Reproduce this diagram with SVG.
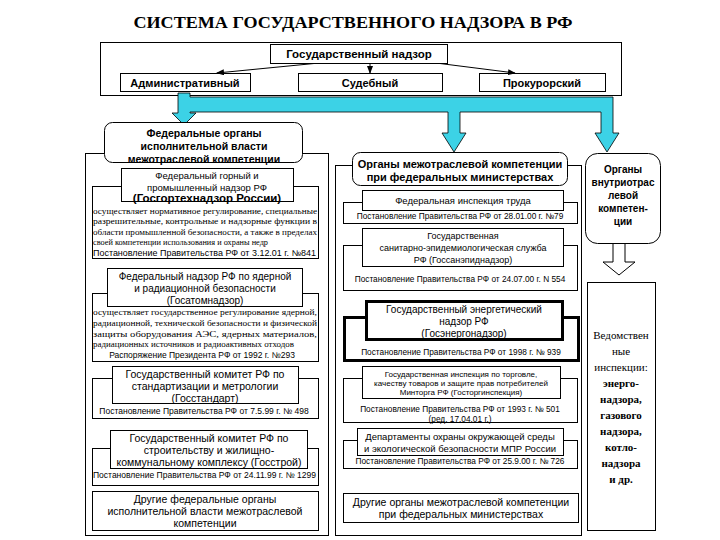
<svg xmlns="http://www.w3.org/2000/svg" width="720" height="540" viewBox="0 0 720 540">
<defs>
<marker id="ah" markerWidth="8" markerHeight="6" refX="7" refY="3" orient="auto" markerUnits="userSpaceOnUse"><path d="M0,0 L8,3 L0,6 Z" fill="#000"/></marker>
<style>
.t{font-family:"Liberation Sans",Arial,sans-serif;fill:#000}
.s{font-family:"Liberation Serif","Times New Roman",serif;fill:#000}
.b{font-weight:bold}
.m{text-anchor:middle}
.box{fill:#fff;stroke:#000;stroke-width:1}
.thick{fill:#fff;stroke:#000;stroke-width:3}
.ln{stroke:#000;stroke-width:1;fill:none}
.cy{fill:#3cd2e6;stroke:#000;stroke-width:0.8}
.hol{fill:#fff;stroke:#000;stroke-width:1}
</style>
</defs>
<rect width="720" height="540" fill="#fff"/>
<text class="s b m" x="353" y="28" font-size="17" textLength="439" lengthAdjust="spacingAndGlyphs">СИСТЕМА ГОСУДАРСТВЕННОГО НАДЗОРА В РФ</text>

<g id="top-frame"><rect class="box" x="100.5" y="42.5" width="521" height="53"/></g>
<g id="gosnadzor"><rect class="box" x="270.5" y="44.5" width="177" height="19"/><text class="t b m" x="359" y="58" font-size="11.5">Государственный надзор</text></g>
<g id="adm"><rect class="box" x="120.5" y="73.5" width="130" height="18"/><text class="t b m" x="185" y="87" font-size="11">Административный</text></g>
<g id="sud"><rect class="box" x="298.5" y="73.5" width="144" height="18"/><text class="t b m" x="370" y="87" font-size="11">Судебный</text></g>
<g id="prok"><rect class="box" x="479.5" y="73.5" width="126" height="18"/><text class="t b m" x="542" y="87" font-size="11">Прокурорский</text></g>

<g id="connectors">
<line class="ln" x1="314" y1="63.5" x2="217" y2="73" marker-end="url(#ah)"/>
<line class="ln" x1="370" y1="63.5" x2="370" y2="73" marker-end="url(#ah)"/>
<line class="ln" x1="440" y1="63.5" x2="515" y2="73" marker-end="url(#ah)"/>
<path class="cy" d="M178,93 H190 V97 H613 V133 H619 L607,152 L595,133 H601 V112 H460 V133 H466 L454,152 L442,133 H448 V112 H190 V113 H196 L184,125 L172,113 H178 Z"/>
<path class="hol" d="M613,243 V262 H603 L619,275 L635,262 H625 V243"/>
</g>

<g id="left-frame"><rect class="box" x="85.5" y="153.5" width="243" height="382"/></g>
<g id="left-head"><rect class="box" x="104.5" y="122.5" width="198" height="40" rx="8"/>
<text class="t b m" x="204" y="137" font-size="10.5">Федеральные органы</text>
<text class="t b m" x="204" y="150" font-size="10.5">исполнительной власти</text>
<text class="t b m" x="204" y="163" font-size="10.5">межотраслевой компетенции</text></g>

<g id="gosgortekh">
<rect class="box" x="92.5" y="186.5" width="226" height="72"/>
<rect class="box" x="121.5" y="168.5" width="172" height="33"/>
<text class="t m" x="207" y="179" font-size="9.5">Федеральный горный и</text>
<text class="t m" x="207" y="191" font-size="9.5">промышленный надзор РФ</text>
<text class="t b m" x="207" y="202" font-size="11.5">(Госгортехнадзор России)</text>
<text class="s" x="93" y="213.5" font-size="8.5" textLength="224" lengthAdjust="spacingAndGlyphs">осуществляет нормативное регулирование, специальные</text>
<text class="s" x="93" y="224" font-size="8.5" textLength="224" lengthAdjust="spacingAndGlyphs">разрешительные, контрольные и надзорные функции в</text>
<text class="s" x="93" y="235" font-size="8.5" textLength="224" lengthAdjust="spacingAndGlyphs">области промышленной безопасности, а также в пределах</text>
<text class="s" x="93" y="245" font-size="8.5" textLength="175" lengthAdjust="spacingAndGlyphs">своей компетенции использования и охраны недр</text>
<text class="t" x="93" y="256" font-size="8.3" textLength="223" lengthAdjust="spacingAndGlyphs">Постановление Правительства РФ от 3.12.01  г. №841</text>
</g>

<g id="gosatom">
<rect class="box" x="92.5" y="293.5" width="226" height="68"/>
<rect class="box" x="107.5" y="268.5" width="195" height="38"/>
<text class="t m" x="205" y="280" font-size="10">Федеральный надзор РФ по ядерной</text>
<text class="t m" x="205" y="292" font-size="10">и радиационной безопасности</text>
<text class="t m" x="205" y="304" font-size="10">(Госатомнадзор)</text>
<text class="s" x="93" y="315" font-size="8.5" textLength="224" lengthAdjust="spacingAndGlyphs">осуществляет государственное регулирование ядерной,</text>
<text class="s" x="93" y="326" font-size="8.5" textLength="224" lengthAdjust="spacingAndGlyphs">радиационной, технической безопасности и физической</text>
<text class="s" x="93" y="337" font-size="8.5" textLength="224" lengthAdjust="spacingAndGlyphs">защиты оборудования АЭС, ядерных материалов,</text>
<text class="s" x="93" y="347" font-size="8.5" textLength="201" lengthAdjust="spacingAndGlyphs">радиационных источников и радиоактивных отходов</text>
<text class="t m" x="202" y="358" font-size="8.5">Распоряжение Президента РФ от 1992 г. №293</text>
</g>

<g id="gosstandart">
<rect class="box" x="92.5" y="378.5" width="226" height="40"/>
<rect class="box" x="112.5" y="366.5" width="186" height="37"/>
<text class="t m" x="205" y="378" font-size="10.5">Государственный комитет РФ по</text>
<text class="t m" x="205" y="390" font-size="10.5">стандартизации и метрологии</text>
<text class="t m" x="205" y="402" font-size="10.5">(Госстандарт)</text>
<text class="t m" x="204" y="414" font-size="8.5">Постановление Правительства РФ от 7.5.99 г.  № 498</text>
</g>

<g id="gosstroy">
<rect class="box" x="92.5" y="448.5" width="226" height="37"/>
<rect class="box" x="110.5" y="430.5" width="197" height="38"/>
<text class="t m" x="209" y="442" font-size="10.5">Государственный комитет РФ по</text>
<text class="t m" x="209" y="454" font-size="10.5">строительству и жилищно-</text>
<text class="t m" x="209" y="466" font-size="10.5">коммунальному комплексу (Госстрой)</text>
<text class="t" x="93" y="478" font-size="8.5" textLength="223" lengthAdjust="spacingAndGlyphs">Постановление Правительства РФ от 24.11.99 г.  № 1299</text>
</g>

<g id="left-other">
<rect class="box" x="92.5" y="491.5" width="226" height="39"/>
<text class="t m" x="205" y="503" font-size="10.5">Другие федеральные органы</text>
<text class="t m" x="205" y="515" font-size="10.5">исполнительной власти межотраслевой</text>
<text class="t m" x="205" y="527" font-size="10.5">компетенции</text>
</g>

<g id="mid-frame"><rect class="box" x="335.5" y="165.5" width="246" height="370"/></g>
<g id="mid-head"><rect class="box" x="352.5" y="152.5" width="215" height="33" rx="8"/>
<text class="t b m" x="460" y="168" font-size="11">Органы межотраслевой компетенции</text>
<text class="t b m" x="460" y="181" font-size="11">при федеральных министерствах</text></g>

<g id="trud">
<rect class="box" x="343.5" y="202.5" width="234" height="21"/>
<rect class="box" x="362.5" y="190.5" width="201" height="20"/>
<text class="t m" x="463" y="204" font-size="9.5">Федеральная инспекция труда</text>
<text class="t m" x="460" y="219" font-size="8.3">Постановление Правительства РФ от 28.01.00  г. №79</text>
</g>

<g id="sanepid">
<rect class="box" x="343.5" y="245.5" width="234" height="45"/>
<rect class="box" x="362.5" y="228.5" width="201" height="38"/>
<text class="t m" x="463" y="239" font-size="9">Государственная</text>
<text class="t m" x="463" y="251" font-size="9">санитарно-эпидемиологическая служба</text>
<text class="t m" x="463" y="263" font-size="9">РФ (Госсанэпиднадзор)</text>
<text class="t m" x="460" y="282" font-size="8.3">Постановление Правительства РФ от 24.07.00 г. N 554</text>
</g>

<g id="energo">
<rect class="thick" x="344.5" y="317.5" width="234" height="43"/>
<rect class="thick" x="366.5" y="301.5" width="196" height="38"/>
<text class="t m" x="464" y="313" font-size="10">Государственный энергетический</text>
<text class="t m" x="464" y="325" font-size="10">надзор РФ</text>
<text class="t m" x="464" y="337" font-size="10">(Госэнергонадзор)</text>
<text class="t m" x="461" y="355" font-size="8.3">Постановление Правительства РФ от 1998 г. № 939</text>
</g>

<g id="torg">
<rect class="box" x="343.5" y="378.5" width="234" height="44"/>
<rect class="box" x="362.5" y="366.5" width="198" height="32"/>
<text class="t m" x="461" y="377" font-size="8">Государственная инспекция по торговле,</text>
<text class="t m" x="461" y="386" font-size="8">качеству товаров и защите прав потребителей</text>
<text class="t m" x="461" y="395" font-size="8">Минторга РФ (Госторгинспекция)</text>
<text class="t m" x="460" y="412" font-size="8.3">Постановление Правительства РФ от 1993 г. № 501</text>
<text class="t m" x="460" y="422" font-size="8.3">(ред. 17.04.01 г.)</text>
</g>

<g id="mpr">
<rect class="box" x="343.5" y="440.5" width="234" height="28"/>
<rect class="box" x="357.5" y="428.5" width="206" height="27"/>
<text class="t m" x="460" y="440" font-size="9.5">Департаменты охраны окружающей среды</text>
<text class="t m" x="460" y="452" font-size="9.5">и экологической  безопасности МПР России</text>
<text class="t m" x="460" y="464" font-size="8.3">Постановление Правительства РФ от 25.9.00 г.  № 726</text>
</g>

<g id="mid-other">
<rect class="box" x="343.5" y="493.5" width="235" height="29"/>
<text class="t m" x="461" y="506" font-size="10.5">Другие органы межотраслевой компетенции</text>
<text class="t m" x="461" y="518" font-size="10.5">при федеральных министерствах</text>
</g>

<g id="right-head"><rect class="box" x="585.5" y="153.5" width="75" height="90" rx="12"/>
<text class="t b m" x="623" y="173" font-size="10">Органы</text>
<text class="t b m" x="623" y="186" font-size="10">внутриотрас</text>
<text class="t b m" x="623" y="199" font-size="10">левой</text>
<text class="t b m" x="623" y="212" font-size="10">компетен-</text>
<text class="t b m" x="623" y="225" font-size="10">ции</text></g>

<g id="right-insp"><rect class="box" x="587.5" y="282.5" width="68" height="248"/>
<text class="s m" x="621" y="339" font-size="11">Ведомствен</text>
<text class="s m" x="621" y="355" font-size="11">ные</text>
<text class="s m" x="621" y="371" font-size="11">инспекции:</text>
<text class="s b m" x="621" y="387" font-size="11">энерго-</text>
<text class="s b m" x="621" y="403" font-size="11">надзора,</text>
<text class="s b m" x="621" y="419" font-size="11">газового</text>
<text class="s b m" x="621" y="435" font-size="11">надзора,</text>
<text class="s b m" x="621" y="451" font-size="11">котло-</text>
<text class="s b m" x="621" y="467" font-size="11">надзора</text>
<text class="s b m" x="621" y="483" font-size="11">и др.</text></g>
</svg>
